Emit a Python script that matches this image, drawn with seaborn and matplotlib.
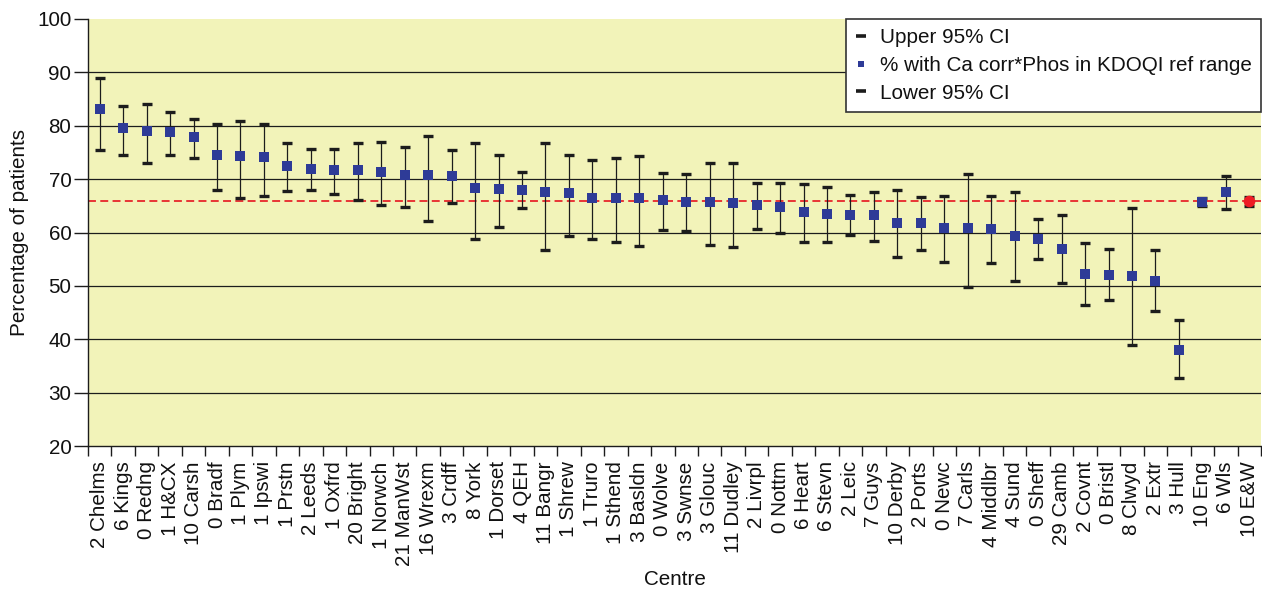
import numpy as np
import pandas as pd
import matplotlib
matplotlib.use("Agg")
import matplotlib.pyplot as plt
from matplotlib.lines import Line2D
import seaborn as sns

# Centres, ordered by the share of patients within the KDOQI reference range
centres = [
    "2 Chelms", "6 Kings", "0 Redng", "1 H&CX", "10 Carsh", "0 Bradf", "1 Plym",
    "1 Ipswi", "1 Prstn", "2 Leeds", "1 Oxfrd", "20 Bright", "1 Norwch",
    "21 ManWst", "16 Wrexm", "3 Crdff", "8 York", "1 Dorset", "4 QEH",
    "11 Bangr", "1 Shrew", "1 Truro", "1 Sthend", "3 Basldn", "0 Wolve",
    "3 Swnse", "3 Glouc", "11 Dudley", "2 Livrpl", "0 Nottm", "6 Heart",
    "6 Stevn", "2 Leic", "7 Guys", "10 Derby", "2 Ports", "0 Newc", "7 Carls",
    "4 Middlbr", "4 Sund", "0 Sheff", "29 Camb", "2 Covnt", "0 Bristl",
    "8 Clwyd", "2 Extr", "3 Hull", "10 Eng", "6 Wls", "10 E&W",
]

pct_in_range = [
    83.1, 79.5, 79.0, 78.8, 77.8, 74.6, 74.3, 74.2, 72.5, 71.9,
    71.7, 71.7, 71.3, 70.8, 70.8, 70.6, 68.3, 68.2, 68.0, 67.5,
    67.4, 66.5, 66.5, 66.5, 66.0, 65.8, 65.8, 65.5, 65.1, 64.8,
    63.8, 63.5, 63.3, 63.2, 61.8, 61.8, 60.8, 60.8, 60.7, 59.4,
    58.8, 57.0, 52.3, 52.1, 51.9, 51.0, 38.0, 65.8, 67.5, 65.9,
]

upper_ci = [
    88.9, 83.7, 84.0, 82.5, 81.3, 80.3, 80.9, 80.4, 76.8, 75.7,
    75.7, 76.8, 76.9, 76.1, 78.1, 75.5, 76.7, 74.6, 71.3, 76.7,
    74.6, 73.5, 73.9, 74.3, 71.1, 71.0, 73.0, 73.0, 69.3, 69.3,
    69.1, 68.5, 67.1, 67.6, 67.9, 66.6, 66.9, 71.0, 66.9, 67.5,
    62.6, 63.3, 58.0, 57.0, 64.5, 56.7, 43.6, 66.5, 70.6, 66.7,
]

lower_ci = [
    75.4, 74.5, 73.1, 74.6, 73.9, 68.0, 66.4, 66.9, 67.7, 68.0,
    67.3, 66.0, 65.2, 64.8, 62.2, 65.5, 58.7, 61.0, 64.5, 56.8,
    59.3, 58.8, 58.2, 57.5, 60.5, 60.3, 57.7, 57.2, 60.7, 60.0,
    58.2, 58.2, 59.6, 58.5, 55.5, 56.7, 54.5, 49.7, 54.3, 50.9,
    55.0, 50.5, 46.5, 47.3, 38.9, 45.3, 32.7, 65.0, 64.4, 65.0,
]

national_label = "10 E&W"
y_ticks = [20, 30, 40, 50, 60, 70, 80, 90, 100]

df = pd.DataFrame({
    "Centre": centres,
    "Pct": pct_in_range,
    "Upper": upper_ci,
    "Lower": lower_ci,
})
national_value = df.loc[df["Centre"] == national_label, "Pct"].iloc[0]

sns.set_theme(style="white")
plt.rcParams["font.family"] = ["Liberation Sans", "DejaVu Sans"]

FS = 14.9
BG = "#F2F3B9"
BLUE = "#2E3B97"
INK = "#1c1c1c"

fig = plt.figure(figsize=(12.62, 5.92), dpi=100)
ax = fig.add_axes([88 / 1262, 146 / 592, 1173 / 1262, 427 / 592])
ax.set_facecolor(BG)

# Horizontal gridlines (none on the top edge)
for v in y_ticks[1:-1]:
    ax.axhline(v, color=INK, lw=0.9, zorder=0.5)

# Reference line at the England & Wales figure
ax.axhline(national_value, color="#E8262B", lw=1.3, ls=(0, (4.4, 2.4)), zorder=1)

# Confidence intervals
pos = np.arange(len(df))
ax.errorbar(
    pos, df["Pct"],
    yerr=[df["Pct"] - df["Lower"], df["Upper"] - df["Pct"]],
    fmt="none", ecolor=INK, elinewidth=0.9, capsize=3.5, capthick=2.4, zorder=2,
)

# Centre values
sns.stripplot(
    data=df[df["Centre"] != national_label], x="Centre", y="Pct", order=centres,
    jitter=False, marker="s", color=BLUE, size=6.8, linewidth=0, ax=ax, zorder=3,
)
sns.stripplot(
    data=df[df["Centre"] == national_label], x="Centre", y="Pct", order=centres,
    jitter=False, marker="o", color="#EE1C25", size=8.4, linewidth=0, ax=ax, zorder=3,
)

ax.set_xlim(-0.5, len(df) - 0.5)
ax.set_ylim(20, 100)
ax.set_yticks(y_ticks)
ax.set_xticks(pos)
ax.set_xticklabels(centres, rotation=90, fontsize=FS)
ax.set_xticks(np.arange(len(df) + 1) - 0.5, minor=True)
ax.tick_params(axis="x", which="major", length=0, pad=11, colors="#111111")
ax.tick_params(axis="x", which="minor", length=7, width=1, color=INK, direction="out", bottom=True)
ax.tick_params(axis="y", length=10, width=1, color=INK, direction="out", labelsize=FS,
               pad=2, left=True, labelcolor="#111111")

for side in ("top", "right"):
    ax.spines[side].set_visible(False)
for side in ("left", "bottom"):
    ax.spines[side].set_color(INK)
    ax.spines[side].set_linewidth(1)

ax.set_xlabel("Centre", fontsize=FS, color="#111111", labelpad=3)
ax.set_ylabel("Percentage of patients", fontsize=FS, color="#111111", labelpad=6)

handles = [
    Line2D([], [], ls="none", marker="_", color=INK, markersize=7, mew=2.6),
    Line2D([], [], ls="none", marker="s", color=BLUE, markersize=5, mew=0),
    Line2D([], [], ls="none", marker="_", color=INK, markersize=7, mew=2.6),
]
labels = ["Upper 95% CI", "% with Ca corr*Phos in KDOQI ref range", "Lower 95% CI"]
leg = ax.legend(
    handles, labels, loc="upper right", bbox_to_anchor=(1.0, 1.0), borderaxespad=0,
    fontsize=FS, frameon=True, fancybox=False, framealpha=1, facecolor="white",
    edgecolor="#333333", handlelength=0.6, handletextpad=0.6, labelspacing=0.42,
    borderpad=0.45,
)
leg.get_frame().set_linewidth(1.2)
for t in leg.get_texts():
    t.set_color("#111111")

fig.savefig("out.png", dpi=100)
